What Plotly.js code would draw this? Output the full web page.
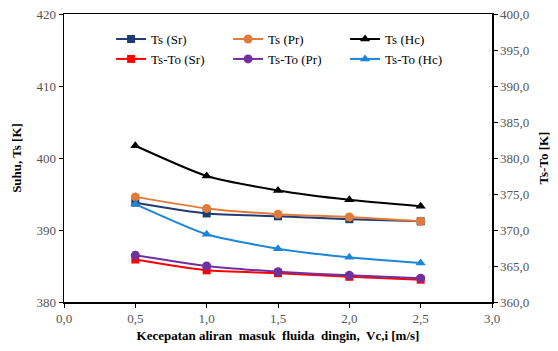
<!DOCTYPE html>
<html><head><meta charset="utf-8">
<script src="https://cdn.plot.ly/plotly-3.0.1.min.js"></script>
<style>body{margin:0;background:#fff}#c{width:558px;height:351px}</style>
</head><body><div id="c"></div>
<script>
const vc = [0.5, 1.0, 1.5, 2.0, 2.5];
const tsSr = [393.8, 392.3, 391.9, 391.5, 391.2];
const tsPr = [394.6, 393.0, 392.2, 391.8, 391.2];
const tsHc = [401.7, 397.5, 395.5, 394.2, 393.3];
const dtSr = [365.9, 364.4, 364.0, 363.5, 363.1];
const dtPr = [366.5, 365.0, 364.2, 363.7, 363.3];
const dtHc = [373.6, 369.4, 367.4, 366.2, 365.4];
const names = ['Ts (Sr)','Ts (Pr)','Ts (Hc)','Ts-To (Sr)','Ts-To (Pr)','Ts-To (Hc)'];

const FAM = 'Liberation Serif';
function tr(name, y, color, sym, axis, msize){
  return {x: vc, y: y, name: name, type:'scatter', mode:'lines+markers', yaxis: axis,
    line:{color:color, width:2, shape:'spline', smoothing:0.6},
    marker:{color:color, symbol:sym, size:msize}};
}
const data = [
  tr(names[0], tsSr, '#1F3B73', 'square', 'y', 8),
  tr(names[1], tsPr, '#E07B39', 'circle', 'y', 9),
  tr(names[2], tsHc, '#000000', 'triangle-up', 'y', 9),
  tr(names[3], dtSr, '#FF0000', 'square', 'y2', 8),
  tr(names[4], dtPr, '#7030A0', 'circle', 'y2', 9),
  tr(names[5], dtHc, '#1C86D6', 'triangle-up', 'y2', 9)
];
const tf = {family:FAM, size:13, color:'#555'};
const titf = {family:FAM, size:13, color:'#000'};
const layout = {
  width:558, height:351, separators:',.',
  margin:{l:64, r:66, t:14, b:49},
  paper_bgcolor:'#fff', plot_bgcolor:'#fff',
  font:{family:FAM, color:'#000'},
  showlegend:true,
  legend:{orientation:'h', x:0.11, y:0.965, xanchor:'left', yanchor:'top',
    entrywidth:72, tracegroupgap:0, itemwidth:30,
    font:{family:FAM, size:13, color:'#000'}, bgcolor:'rgba(0,0,0,0)'},
  xaxis:{range:[0,3], dtick:0.5, tick0:0, tickformat:'.1f', showgrid:false, zeroline:false,
    showline:true, linecolor:'#000', linewidth:1.5, mirror:true,
    ticks:'outside', ticklen:4, tickcolor:'#000', tickfont:tf,
    title:{text:'<b>Kecepatan aliran  masuk  fluida  dingin,  Vc,i [m/s]</b>', font:titf, standoff:6}},
  yaxis:{range:[380,420], dtick:10, showgrid:false, zeroline:false,
    showline:true, linecolor:'#000', linewidth:1.5,
    ticks:'outside', ticklen:4, tickcolor:'#000', tickfont:tf,
    title:{text:'<b>Suhu, Ts [K]</b>', font:titf, standoff:12}},
  yaxis2:{range:[360,400], dtick:5, tickformat:'.1f', overlaying:'y', side:'right',
    showgrid:false, zeroline:false, showline:true, linecolor:'#000', linewidth:1.5,
    ticks:'outside', ticklen:4, tickcolor:'#000', tickfont:tf,
    title:{text:'<b>Ts-To [K]</b>', font:titf, standoff:10}}
};
Plotly.newPlot('c', data, layout, {staticPlot:true});
</script></body></html>
